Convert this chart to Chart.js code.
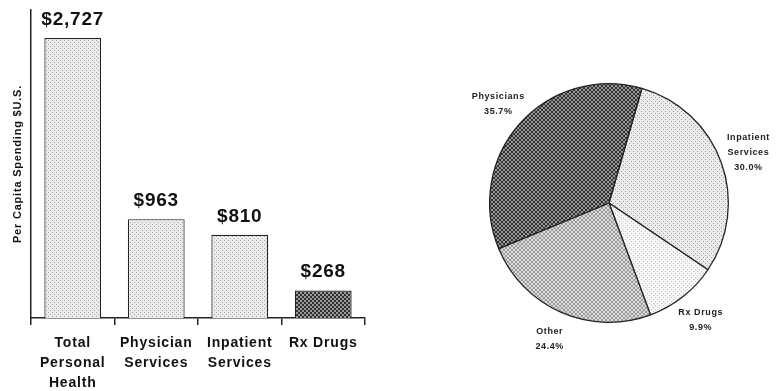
<!DOCTYPE html>
<html>
<head>
<meta charset="utf-8">
<script src="https://cdn.jsdelivr.net/npm/chart.js@4"></script>
<style>
    html, body { margin: 0; padding: 0; background: #fff; }
    body { width: 779px; height: 391px; position: relative; overflow: hidden; }
    #barBox { position: absolute; left: 0; top: 0; width: 390px; height: 391px; }
    #pieBox { position: absolute; left: 429px; top: 23px; width: 360px; height: 360px; }
</style>
</head>
<body>
<div id="barBox"><canvas id="spendingChart"></canvas></div>
<div id="pieBox"><canvas id="shareChart"></canvas></div>
<script>
// Gasto per capita por categoria
const barCategories = [['Total', 'Personal', 'Health'], ['Physician', 'Services'], ['Inpatient', 'Services'], 'Rx Drugs'];
const barValues = [2727, 963, 810, 268];
const barLabels = ['$2,727', '$963', '$810', '$268'];

// Distribuição percentual (ordem horária a partir do topo)
const pieCategories = [['Inpatient', 'Services'], 'Rx Drugs', 'Other', 'Physicians'];
const pieValues = [30.0, 9.9, 24.4, 35.7];
const pieLabels = ['30.0%', '9.9%', '24.4%', '35.7%'];

const FONT = 'Arial, "Liberation Sans", Helvetica, sans-serif';

// Texturas pontilhadas para imitar a impressão em tons de cinza
function makePattern(base, dot, step, checker) {
    const c = document.createElement('canvas');
    c.width = step * 2;
    c.height = step * 2;
    const g = c.getContext('2d');
    g.fillStyle = base;
    g.fillRect(0, 0, c.width, c.height);
    g.fillStyle = dot;
    if (checker) {
        g.fillRect(0, 0, step, step);
        g.fillRect(step, step, step, step);
    } else {
        g.fillRect(0, 0, 1, 1);
        g.fillRect(step, step, 1, 1);
    }
    return g.createPattern(c, 'repeat');
}

const lightDots = makePattern('#ebebeb', '#a4a4a4', 2, false);
const darkHatch = makePattern('#2f2f2f', '#9a9a9a', 2, true);
const mediumDots = makePattern('#dadada', '#9c9c9c', 2, true);
const paleDots = makePattern('#f6f6f6', '#c4c4c4', 2, false);

// Rótulos de valor acima das barras
const barValuePlugin = {
    id: 'barValues',
    afterDatasetsDraw(chart) {
        const ctx = chart.ctx;
        const meta = chart.getDatasetMeta(0);
        ctx.save();
        ctx.font = 'bold 19px ' + FONT;
        ctx.fillStyle = '#111';
        ctx.textAlign = 'center';
        ctx.textBaseline = 'bottom';
        meta.data.forEach((bar, i) => {
            ctx.fillText(barLabels[i], bar.x, bar.y - 9);
        });
        ctx.restore();
    }
};

// Espaçamento entre letras dos rótulos do eixo X
const spacingPlugin = {
    id: 'letterSpacing',
    beforeDraw(chart) {
        chart.ctx.letterSpacing = '0.8px';
    }
};

new Chart(document.getElementById('spendingChart'), {
    type: 'bar',
    data: {
        labels: barCategories,
        datasets: [{
            data: barValues,
            backgroundColor: [lightDots, lightDots, lightDots, darkHatch],
            borderColor: '#222',
            borderWidth: 1.2,
            barPercentage: 0.68,
            categoryPercentage: 1
        }]
    },
    options: {
        responsive: true,
        maintainAspectRatio: false,
        animation: false,
        layout: { padding: { top: 10, right: 25, left: 0, bottom: 0 } },
        plugins: {
            legend: { display: false },
            tooltip: { enabled: false }
        },
        scales: {
            x: {
                grid: {
                    display: true,
                    drawOnChartArea: false,
                    drawTicks: true,
                    tickLength: 7,
                    color: '#222',
                    lineWidth: 1.5
                },
                border: { display: true, color: '#222', width: 1.5 },
                ticks: {
                    color: '#111',
                    padding: 8,
                    maxRotation: 0,
                    autoSkip: false,
                    font: { family: FONT, size: 14, weight: 'bold', lineHeight: 1.43 }
                },
                afterFit(scale) { scale.height = 73; }
            },
            y: {
                min: 0,
                max: 3000,
                grid: { display: false },
                border: { display: true, color: '#222', width: 1.5 },
                ticks: { display: false },
                title: {
                    display: true,
                    text: 'Per Capita Spending $U.S.',
                    color: '#111',
                    padding: { top: 11, bottom: 0 },
                    font: { family: FONT, size: 11, weight: 'bold' }
                },
                afterFit(scale) { scale.width = 31; }
            }
        }
    },
    plugins: [barValuePlugin, spacingPlugin]
});

// Rótulos externos das fatias da pizza
const pieLabelPlugin = {
    id: 'pieLabels',
    afterDatasetsDraw(chart) {
        const ctx = chart.ctx;
        const meta = chart.getDatasetMeta(0);
        ctx.save();
        ctx.letterSpacing = '0.6px';
        ctx.font = 'bold 9px ' + FONT;
        ctx.fillStyle = '#222';
        ctx.textAlign = 'center';
        ctx.textBaseline = 'middle';
        meta.data.forEach((arc, i) => {
            const mid = (arc.startAngle + arc.endAngle) / 2;
            const dist = arc.outerRadius + 29;
            const x = arc.x + Math.cos(mid) * dist;
            const y = arc.y + Math.sin(mid) * dist;
            const lines = [].concat(pieCategories[i], pieLabels[i]);
            const lh = 15;
            const y0 = y - (lines.length - 1) * lh / 2;
            lines.forEach((t, k) => ctx.fillText(t, x, y0 + k * lh));
        });
        ctx.restore();
    }
};

new Chart(document.getElementById('shareChart'), {
    type: 'pie',
    data: {
        labels: pieCategories,
        datasets: [{
            data: pieValues,
            backgroundColor: [lightDots, paleDots, mediumDots, darkHatch],
            borderColor: '#222',
            borderWidth: 1.3
        }]
    },
    options: {
        responsive: true,
        maintainAspectRatio: false,
        animation: false,
        rotation: 16,
        layout: { padding: 60 },
        plugins: {
            legend: { display: false },
            tooltip: { enabled: false }
        }
    },
    plugins: [pieLabelPlugin]
});
</script>
</body>
</html>
